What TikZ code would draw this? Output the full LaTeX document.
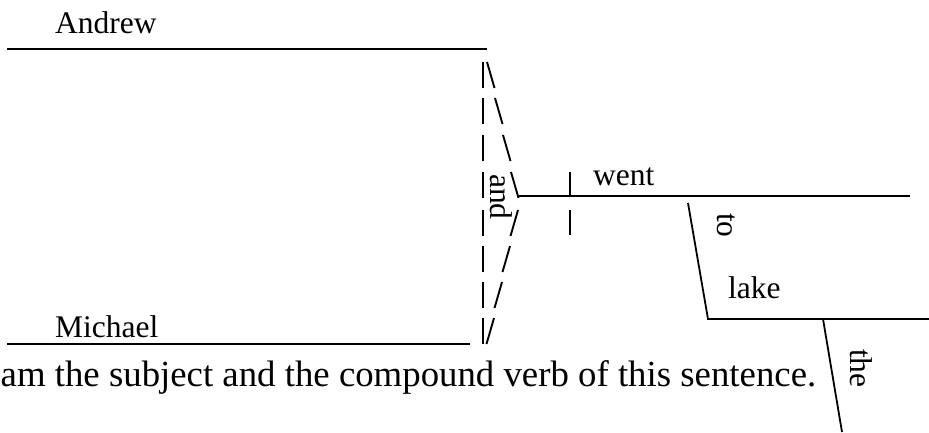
\documentclass[tikz,border=0pt]{standalone}
\usepackage{fontspec}
\setmainfont{Liberation Serif}
\begin{document}
\begin{tikzpicture}[x=1pt,y=-1pt,
  word/.style={inner sep=0pt, font=\fontsize{31.5}{37}\selectfont},
  vword/.style={word, rotate=-90, anchor=base west},
  bar/.style={line width=2.1pt},
  slant/.style={line width=1.9pt},
  under/.style={line width=1.6pt},
  rule/.style={line width=1.8pt},
  note/.style={inner sep=0pt, font=\fontsize{36.8}{44}\selectfont}]
\useasboundingbox (0,0) rectangle (929,432);
% words
\node[word, anchor=base west] (andrew) at (55,33) {Andrew};
\node[word, anchor=base west] (michael) at (55,337) {Michael};
\node[word, anchor=base west] (went) at (593,185) {went};
\node[word, anchor=base west] (lake) at (728,298) {lake};
\node[vword] (and) at (490,174) {and};
\node[vword] (to) at (717,213) {to};
\node[vword] (the) at (850,349) {the};
\node[note, anchor=base west] (question) at (0.5,386) {am the subject and the compound verb of this sentence.};
% coordinates
\coordinate (topL) at (7,49);
\coordinate (topR) at (487,49);
\coordinate (botL) at (7,344);
\coordinate (botR) at (470,344);
\coordinate (joinL) at (519,196);
\coordinate (wentR) at (910,196);
\coordinate (toTop) at (688,203);
\coordinate (toBot) at (708,319);
\coordinate (lakeR) at (929,319);
\coordinate (theTop) at (823,319);
\coordinate (theBot) at (842,432);
% subject lines
\draw[under] (topL) -- (topR);
\draw[under] (botL) -- (botR);
% conjunction column of bars
\foreach \t in {62,98,135,172,210,246,282,318}
  \draw[bar] (483,\t) -- ++(0,26);
% backslashes
\foreach \t [count=\i from 0] in {62,98,135,172}
  \draw[slant] (487+8*\i,\t) -- ++(7.5,26);
% slashes
\foreach \t [count=\i from 0] in {210,246,282,318}
  \draw[slant] (518-8*\i,\t) -- ++(-7.5,26);
% verb line
\draw[under] (joinL) -- (wentR);
\draw[bar] (570,172) -- ++(0,25);
\draw[bar] (570,210) -- ++(0,25);
% modifiers
\draw[rule] (toTop) -- (toBot) -- (lakeR);
\draw[rule] (theTop) -- (theBot);
\end{tikzpicture}
\end{document}
